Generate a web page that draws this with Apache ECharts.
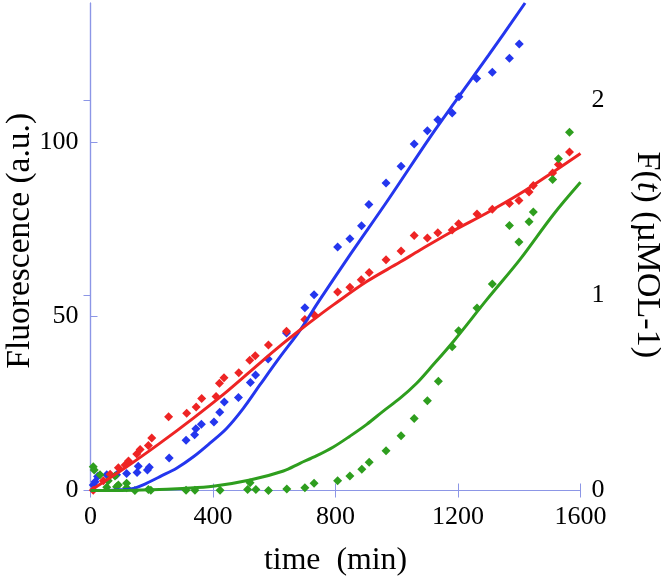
<!DOCTYPE html>
<html>
<head>
<meta charset="utf-8">
<script src="https://cdn.jsdelivr.net/npm/echarts@6/dist/echarts.min.js"></script>
<style>
html,body{margin:0;padding:0;background:#fff;}
#chart{width:661px;height:579px;}
</style>
</head>
<body>
<div id="chart"></div>
<script>
// ---- data (time in min, fluorescence in a.u.) ----
const blueData = [[9,1.6],[15,2.5],[23,4.0],[53,4.5],[85,4.5],[118,4.9],[152,5.2],[156,7.0],[186,5.9],[192,6.7],[257,9.3],[312,14.4],[340,16.0],[344,17.7],[362,19.0],[403,19.7],[422,22.5],[437,25.4],[483,26.7],[522,31.0],[539,33.2],[580,37.8],[640,45.2],[700,52.5],[730,56.2],[807,69.9],[847,72.3],[885,76.0],[909,82.1],[965,88.3],[1014,93.1],[1057,99.5],[1100,103.3],[1134,106.5],[1181,108.4],[1203,113.1],[1261,118.3],[1312,120.1],[1368,124.1],[1400,128.2]];
const redData = [[9,0.1],[42,2.8],[64,4.7],[91,6.5],[113,7.3],[124,8.5],[151,10.5],[162,11.8],[189,12.9],[200,15.1],[255,21.2],[314,22.2],[345,24.0],[363,26.4],[410,27.0],[421,30.8],[436,32.4],[484,33.8],[520,37.4],[538,38.7],[581,41.8],[640,45.7],[700,49.1],[730,50.5],[807,57.0],[847,58.4],[884,60.5],[910,62.6],[965,66.3],[1014,68.8],[1057,73.2],[1100,72.5],[1134,74.0],[1181,74.8],[1202,76.6],[1262,79.4],[1312,80.8],[1368,82.4],[1399,83.3],[1432,85.7],[1446,87.6],[1509,91.2],[1528,93.6],[1564,97.2]];
const greenData = [[9,6.8],[12,5.9],[31,4.5],[53,0.9],[58,2.8],[80,4.2],[85,1.1],[91,1.6],[118,2.1],[118,0.8],[145,0.0],[189,0.3],[197,0.1],[312,0.1],[341,0.1],[423,0.1],[513,0.3],[521,2.2],[540,0.3],[581,0.0],[641,0.4],[700,0.8],[730,2.1],[807,2.8],[847,4.2],[886,6.1],[910,8.1],[965,11.4],[1014,15.7],[1057,20.7],[1100,25.8],[1136,31.4],[1181,41.3],[1202,45.9],[1262,52.4],[1312,59.3],[1368,76.1],[1399,71.4],[1432,77.2],[1446,80.0],[1509,89.3],[1528,95.3],[1564,102.9]];

const blueFit = [[0,0],[50,0],[100,0.2],[140,0.6],[172,1.6],[227,4.0],[281,6.4],[336,9.7],[390,13.6],[445,17.9],[499,23.6],[553,30.3],[620,38.5],[684,46.0],[749,54.8],[850,68.0],[972,83.5],[1109,101.5],[1196,112.3],[1300,125.0],[1419,140.0]];
const redFit = [[0,0],[118,6.8],[227,13.6],[336,20.8],[445,28.4],[553,36.6],[630,42.3],[684,46.1],[739,49.8],[793,53.3],[902,60.0],[1011,65.6],[1075,69.0],[1185,74.6],[1294,79.7],[1402,85.2],[1511,91.5],[1600,96.8]];
const greenFit = [[0,0],[100,0],[200,0.2],[300,0.6],[400,1.2],[521,3.0],[630,5.6],[684,7.8],[739,10.0],[793,12.5],[847,15.6],[902,19.0],[956,22.8],[1011,26.5],[1065,30.8],[1109,35.1],[1185,42.8],[1294,54.8],[1402,66.3],[1511,79.2],[1600,88.5]];

const xTicks = [0,400,800,1200,1600];
const yLeftTicks = [0,50,100];
const yRightTicks = [0,1,2];

const xTitle = 'time  (min)';
const yLeftTitle = 'Fluorescence (a.u.)';
const yRightTitle = ['F(', 't', ') (\u00b5MOL-1)'];

const BLUE = '#2436ee', RED = '#ee2424', GREEN = '#2e9e1e';
const AXIS = '#8c96e6';
const FONT = '"Liberation Serif", "Times New Roman", Times, serif';

// choose a font size so that a title spans the same length as in the reference
function sizeFor(text, target){
  const ctx = document.createElement('canvas').getContext('2d');
  ctx.font = '100px ' + FONT;
  const w = ctx.measureText(text).width;
  return w > 0 ? Math.round(100 * target / w * 10) / 10 : 30;
}
const xTitleSize = sizeFor(xTitle, 143);
const yLeftTitleSize = sizeFor(yLeftTitle, 256);
const yRightTitleSize = sizeFor(yRightTitle.join(''), 207);

const chart = echarts.init(document.getElementById('chart'), null, {renderer:'canvas'});

const tickStyle = {show:true, inside:true, length:7, lineStyle:{color:AXIS, width:1}};
const lineAxis = {show:true, lineStyle:{color:AXIS, width:1.2}};
const labelStyle = {color:'#000', fontFamily:FONT, fontSize:26, formatter:function(v){return String(v);}};

function scatter(data, color){
  return {type:'scatter', data:data, symbol:'diamond', symbolSize:9, itemStyle:{color:color, opacity:1}, z:3, silent:true};
}
function fit(data, color){
  return {type:'line', data:data, showSymbol:false, smooth:0.35, lineStyle:{color:color, width:3}, z:4, silent:true, animation:false};
}

chart.setOption({
  animation:false,
  backgroundColor:'#fff',
  grid:{left:90.5, right:80.5, top:3, bottom:88.5, containLabel:false, outerBoundsMode:'none'},
  xAxis:[
    {type:'value', min:0, max:1600, interval:400, position:'bottom',
     axisLine:lineAxis, axisTick:Object.assign({customValues:xTicks}, tickStyle),
     axisLabel:Object.assign({customValues:xTicks, margin:14}, labelStyle),
     splitLine:{show:false},
     name:xTitle, nameLocation:'middle', nameGap:54, nameMoveOverlap:false,
     nameTextStyle:{color:'#000', fontFamily:FONT, fontSize:xTitleSize}},
    {type:'value', min:0, max:1600, interval:400, position:'top',
     axisLine:lineAxis, axisTick:Object.assign({customValues:xTicks}, tickStyle),
     axisLabel:{show:false}, splitLine:{show:false}}
  ],
  yAxis:[
    {type:'value', min:0, max:140, interval:50, position:'left',
     axisLine:lineAxis, axisTick:Object.assign({customValues:yLeftTicks}, tickStyle),
     axisLabel:Object.assign({customValues:yLeftTicks, margin:12}, labelStyle),
     splitLine:{show:false},
     name:yLeftTitle, nameLocation:'middle', nameGap:53, nameMoveOverlap:false,
     nameTextStyle:{color:'#000', fontFamily:FONT, fontSize:yLeftTitleSize, padding:[0,0,0,12]}},
    {type:'value', min:0, max:2.5, interval:1, position:'right',
     axisLine:lineAxis, axisTick:Object.assign({customValues:yRightTicks}, tickStyle),
     axisLabel:Object.assign({customValues:yRightTicks, margin:11}, labelStyle),
     splitLine:{show:false},
     name:'{n|' + yRightTitle[0] + '}{i|' + yRightTitle[1] + '}{n|' + yRightTitle[2] + '}',
     nameLocation:'middle', nameGap:49, nameRotate:-90, nameMoveOverlap:false,
     nameTextStyle:{color:'#000', fontFamily:FONT, fontSize:yRightTitleSize, padding:[0,0,0,16],
       rich:{n:{fontFamily:FONT, fontSize:yRightTitleSize, color:'#000'},
             i:{fontFamily:FONT, fontSize:yRightTitleSize, fontStyle:'italic', color:'#000'}}}}
  ],
  series:[
    scatter(blueData, BLUE),
    scatter(redData, RED),
    scatter(greenData, GREEN),
    fit(blueFit, BLUE),
    fit(redFit, RED),
    fit(greenFit, GREEN)
  ]
});
</script>
</body>
</html>
